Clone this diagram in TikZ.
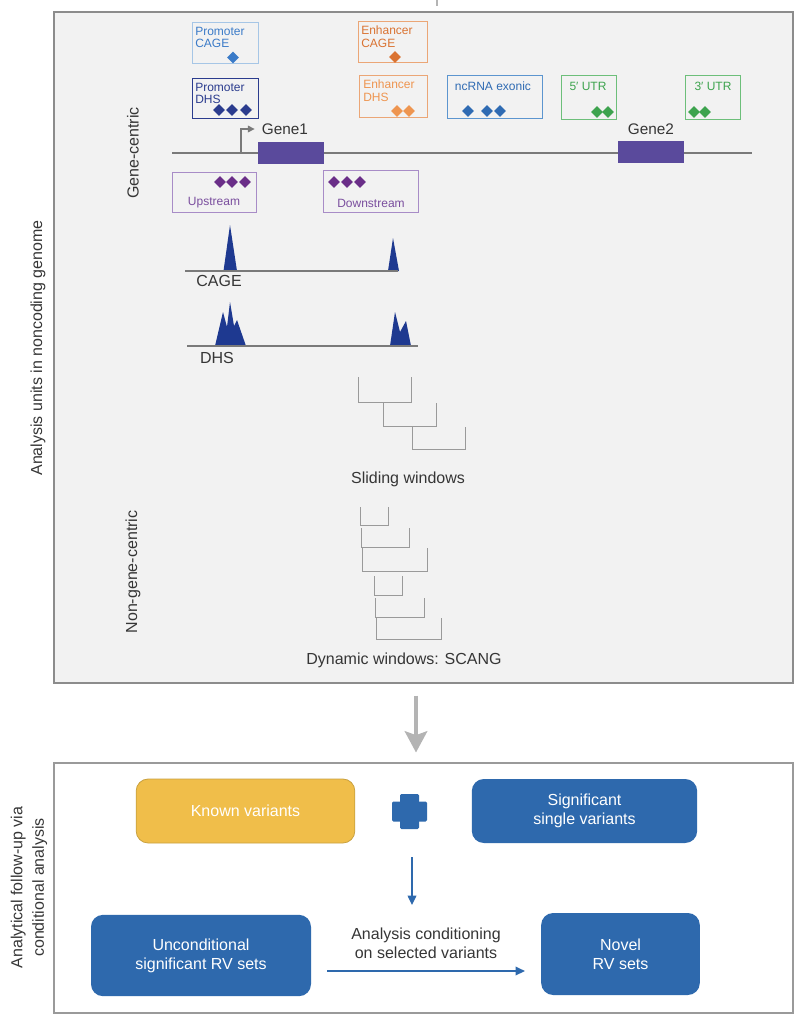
\documentclass[tikz,border=0pt]{standalone}
\usepackage{fontspec}
\setmainfont{Liberation Sans}
\usepackage{tikz}
\usetikzlibrary{arrows.meta,positioning,shapes.geometric,calc}

\definecolor{panelfill}{HTML}{F2F2F2}
\definecolor{panelline}{HTML}{8C8C8C}
\definecolor{labelgray}{HTML}{363636}
\definecolor{cageblue}{HTML}{3B7BC8}
\definecolor{cageline}{HTML}{A6C6E6}
\definecolor{dhsnavy}{HTML}{2B3C8E}
\definecolor{enhorange}{HTML}{DA7332}
\definecolor{enhline}{HTML}{EBA676}
\definecolor{enhlight}{HTML}{EE9550}
\definecolor{ncblue}{HTML}{2F6BB3}
\definecolor{ncline}{HTML}{5C95CF}
\definecolor{utrgreen}{HTML}{3DA34E}
\definecolor{utrline}{HTML}{6DBF7A}
\definecolor{genepurple}{HTML}{5A4A9C}
\definecolor{flankline}{HTML}{A88CC7}
\definecolor{flanktext}{HTML}{7A4E9E}
\definecolor{flankgem}{HTML}{6A2E88}
\definecolor{peaknavy}{HTML}{1E3990}
\definecolor{trackgray}{HTML}{7A7A7A}
\definecolor{windowgray}{HTML}{9A9A9A}
\definecolor{knownyellow}{HTML}{F0BE4A}
\definecolor{knownline}{HTML}{C9A13F}
\definecolor{varblue}{HTML}{2E69AD}
\definecolor{arrowgray}{HTML}{B4B4B4}

\begin{document}
\begin{tikzpicture}[x=0.75pt,y=-0.75pt,
  panel/.style={draw=panelline, line width=0.8pt, inner sep=0pt},
  smalltext/.style={font=\fontsize{9}{9.5}\selectfont, inner sep=0pt, align=left},
  gem/.style={diamond, inner sep=0pt, minimum size=9pt},
  bigtext/.style={font=\fontsize{12}{15}\selectfont, text=labelgray},
  annobox/.style={line width=0.7pt},
  genebox/.style={fill=genepurple, inner sep=0pt, minimum width=49.5pt, minimum height=17pt},
  peak/.style={fill=peaknavy},
  track/.style={draw=trackgray, line width=0.9pt},
  window/.style={draw=windowgray, line width=0.5pt},
  varbox/.style={rounded corners=9pt, text=white, align=center,
                 font=\fontsize{12}{14.3}\selectfont, inner sep=0pt},
  flowarrow/.style={draw=varblue, line width=1pt, -{Triangle[length=7pt,width=6.5pt]}}]

\useasboundingbox (0,0) rectangle (806,1022);

\node[panel, fill=panelfill, minimum width=554.25pt, minimum height=503.25pt] (genomepanel) at (423.5,347.5) {};
\node[panel, draw=windowgray, fill=white, minimum width=554.25pt, minimum height=187.5pt] (followpanel) at (423.5,888) {};
\draw[arrowgray, line width=0.8pt] (437,0) -- (437,6);

\node[bigtext, rotate=90] (unitslabel) at (38,348) {Analysis units in noncoding genome};
\node[bigtext, rotate=90] (genelabel) at (133,153) {Gene-centric};
\node[bigtext, rotate=90] (nongenelabel) at (133,572) {Non-gene-centric};

\draw[annobox, cageline] (192,22) rectangle (258,63);
\node[smalltext, text=cageblue, anchor=north west] (pcage) at (195,26.5) {Promoter\\CAGE};
\node[gem, fill=cageblue] (pcagegem) at (233,57.5) {};

\draw[annobox, dhsnavy] (192,78) rectangle (258,118);
\node[smalltext, text=dhsnavy, anchor=north west] (pdhs) at (195,82.5) {Promoter\\DHS};
\foreach \x [count=\i] in {219,232,246}
  \node[gem, fill=dhsnavy] (pdhsgem\i) at (\x,110) {};

\draw[annobox, enhline] (358,21) rectangle (427,62);
\node[smalltext, text=enhorange, anchor=north west] (ecage) at (361,25.5) {Enhancer\\CAGE};
\node[gem, fill=enhorange] (ecagegem) at (395,57) {};

\draw[annobox, enhline] (359,75) rectangle (427,117);
\node[smalltext, text=enhlight, anchor=north west] (edhs) at (363,79.5) {Enhancer\\DHS};
\foreach \x [count=\i] in {397,409}
  \node[gem, fill=enhlight] (edhsgem\i) at (\x,111) {};

\draw[annobox, ncline] (447,75) rectangle (542,118);
\node[smalltext, text=ncblue] (ncrna) at (493,86) {ncRNA exonic};
\foreach \x [count=\i] in {468,487,500}
  \node[gem, fill=ncblue] (ncrnagem\i) at (\x,111) {};

\draw[annobox, utrline] (561,75) rectangle (616,119);
\node[smalltext, text=utrgreen] (utrfive) at (588,86) {5′ UTR};
\foreach \x [count=\i] in {597,608}
  \node[gem, fill=utrgreen] (utrfivegem\i) at (\x,112) {};

\draw[annobox, utrline] (685,75) rectangle (740,119);
\node[smalltext, text=utrgreen] (utrthree) at (713,86) {3′ UTR};
\foreach \x [count=\i] in {694,705}
  \node[gem, fill=utrgreen] (utrthreegem\i) at (\x,112) {};

\coordinate (chrstart) at (172,153);
\coordinate (chrend) at (752,153);
\draw[trackgray, line width=1.1pt] (chrstart) -- (chrend);
\node[genebox] (gene1) at (291,153) {};
\node[genebox] (gene2) at (650.5,152) {};
\node[font=\fontsize{11.5}{13}\selectfont, text=labelgray] (gene1label) at (285,129) {Gene1};
\node[font=\fontsize{11.5}{13}\selectfont, text=labelgray] (gene2label) at (651,129) {Gene2};
\coordinate (tss) at (241,153);
\draw[trackgray, line width=0.9pt, -{Triangle[length=5pt,width=5pt]}, shorten >=2pt]
  (tss) |- (gene1label.west);

\draw[annobox, flankline] (172,172) rectangle (256,212);
\node[smalltext, text=flanktext] (upstream) at (214,203) {Upstream};
\foreach \x [count=\i] in {220,232,245}
  \node[gem, fill=flankgem] (upgem\i) at (\x,182) {};

\draw[annobox, flankline] (323,170) rectangle (418,212);
\node[smalltext, text=flanktext] (downstream) at (371,203) {Downstream};
\foreach \x [count=\i] in {334,347,360}
  \node[gem, fill=flankgem] (downgem\i) at (\x,182) {};

\fill[peak] (223.5,271) -- (230,225) -- (237,271) -- cycle;
\fill[peak] (388,271) -- (393,238) -- (399,271) -- cycle;
\draw[track] (185,271) -- (398,271);
\node[bigtext] (cagelabel) at (219,281) {CAGE};

\fill[peak] (215,346) -- (223,312) -- (227,327) -- (230,302) -- (234,326) -- (237,320)
  -- (246,346) -- cycle;
\fill[peak] (390,346) -- (395,312) -- (400,332) -- (406,321) -- (411,346) -- cycle;
\draw[track] (187,346) -- (418,346);
\node[bigtext] (dhslabel) at (217,358) {DHS};

\draw[window] (358,377) |- (411,402) -- (411,377);
\draw[window] (383,403) |- (436,426) -- (436,403);
\draw[window] (412,427) |- (465,449) -- (465,427);
\node[bigtext] (slidelabel) at (408,479) {Sliding windows};

\draw[window] (360,507) |- (388,525) -- (388,507);
\draw[window] (361,528) |- (409,547) -- (409,528);
\draw[window] (362,548) |- (427,571) -- (427,548);
\draw[window] (374,576) |- (402,595) -- (402,576);
\draw[window] (375,598) |- (424,617) -- (424,598);
\draw[window] (376,618) |- (441,639) -- (441,618);
\node[bigtext] (scanglabel) at (404,660) {Dynamic windows: SCANG};

\coordinate (arrowx) at (416,0);
\draw[arrowgray, line width=2.4pt, -{Stealth[length=16pt,width=17pt,inset=3pt]},
  shorten <=9pt, shorten >=7.5pt]
  (genomepanel.south -| arrowx) -- (followpanel.north -| arrowx);

\node[bigtext, rotate=90, align=center, font=\fontsize{12}{16}\selectfont] (followlabel)
  at (29,887.5) {Analytical follow-up via\\conditional analysis};

\node[varbox, fill=knownyellow, draw=knownline, line width=0.6pt,
  minimum width=164pt, minimum height=48pt] (known) at (245.5,811) {Known variants};
\node[varbox, fill=varblue, minimum width=169pt, minimum height=48pt] (single)
  at (584.5,811) {Significant\\single variants};
\node[varbox, fill=varblue, minimum width=165pt, minimum height=61pt] (uncond)
  at (201,955.5) {Unconditional\\significant RV sets};
\node[varbox, fill=varblue, minimum width=119pt, minimum height=61.5pt] (novel)
  at (620.5,954) {Novel\\RV sets};

\coordinate (plus) at (409.5,811.5);
\fill[varblue, rounded corners=1pt] ($(plus)+(-17.5,-10)$) rectangle ($(plus)+(17.5,10)$);
\fill[varblue, rounded corners=1pt] ($(plus)+(-9.5,-17.5)$) rectangle ($(plus)+(9.5,17.5)$);

\coordinate (mergetop) at (412,857);
\coordinate (mergebot) at (412,905);
\draw[flowarrow] (mergetop) -- (mergebot);
\draw[flowarrow] ($(uncond.east)+(16,15.5)$) -- ($(novel.west)+(-16,17)$);
\node[bigtext, align=center, font=\fontsize{12}{14.3}\selectfont] (condlabel)
  at (426,943.5) {Analysis conditioning\\on selected variants};

\end{tikzpicture}
\end{document}
